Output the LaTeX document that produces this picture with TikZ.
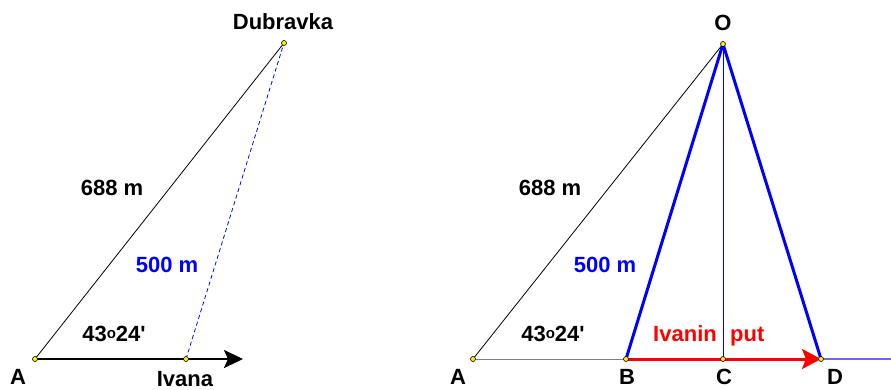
\documentclass[tikz,border=0pt]{standalone}
\usepackage{fontspec}
\newfontfamily\lblfont{Liberation Sans}
\usetikzlibrary{arrows.meta}
\newcommand\degmark{{\raisebox{2.5pt}{\fontsize{15}{15}\selectfont o}}}

\begin{document}
\begin{tikzpicture}[x=1pt,y=-1pt,>=Stealth,
  dot/.style={circle,draw=black,fill=yellow,inner sep=0pt,minimum size=5pt,line width=0.6pt},
  lbl/.style={font=\lblfont\bfseries\fontsize{22}{22}\selectfont,inner sep=0pt,anchor=base},
  thin/.style={line width=0.8pt},
  thick blue/.style={draw=blue,line width=3pt}]
\useasboundingbox (0,0) rectangle (891,389);
% left picture
\coordinate (a1) at (35,359);
\coordinate (iv) at (186,359);
\coordinate (du) at (284,43);
\coordinate (ivend) at (243,359);
\draw[thin] (a1)--(du);
\draw[thin,blue,dash pattern=on 4pt off 3pt] (iv)--(du);
\draw[line width=2.5pt,-{Stealth[length=19pt,width=18pt,inset=4pt]}] (a1)--(ivend);
\node[lbl] (ldu) at (283,29) {Dubravka};
\node[lbl] (l688a) at (112,195) {688 m};
\node[lbl,blue] (l500a) at (167,272) {500 m};
\node[lbl] (langa) at (114,341) {43\degmark24'};
\node[lbl] (la1) at (18,384) {A};
\node[lbl] (liv) at (185,386) {Ivana};
\foreach \p in {a1,iv,du} \node[dot] at (\p) {};
% right picture
\coordinate (a) at (473,359);
\coordinate (b) at (626,359);
\coordinate (c) at (723,359);
\coordinate (d) at (821,359);
\coordinate (o) at (723,44);
\coordinate (rend) at (891,359);
\draw[thin] (a)--(o);
\draw[line width=1pt,gray] (a)--(b);
\draw[line width=1.2pt,blue!60] (d)--(rend);
\draw[line width=1pt,blue] (o)--(c);
\draw[thick blue] (o)--(b);
\draw[thick blue] (o)--(d);
\draw[line width=3pt,red,-{Stealth[length=19pt,width=20pt,inset=4pt]}] (b)--(d);
\node[lbl] (lo) at (723,30) {O};
\node[lbl] (l688b) at (550,195) {688 m};
\node[lbl,blue] (l500b) at (605,272) {500 m};
\node[lbl] (langb) at (553,341) {43\degmark24'};
\node[lbl,red,anchor=base east] (lput1) at (717,341) {Ivanin};
\node[lbl,red,anchor=base west] (lput2) at (730,341) {put};
\node[lbl] (la) at (458,384) {A};
\node[lbl] (lb) at (627,384) {B};
\node[lbl] (lc) at (724,384) {C};
\node[lbl] (ld) at (835,384) {D};
\foreach \p in {a,b,c,d,o} \node[dot] at (\p) {};
\end{tikzpicture}
\end{document}
